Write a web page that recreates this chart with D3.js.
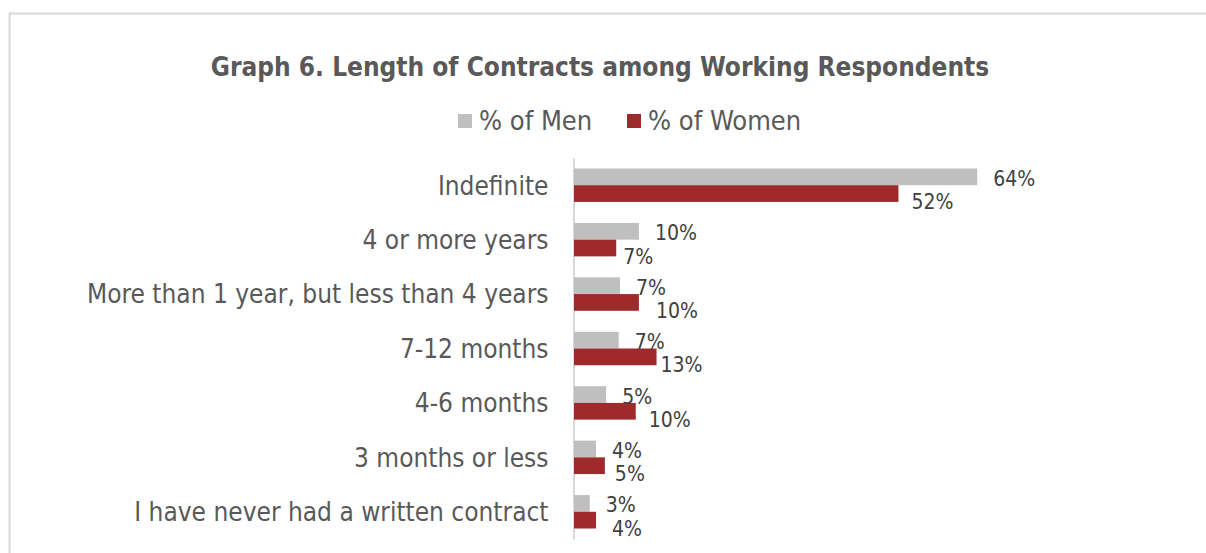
<!DOCTYPE html>
<html>
<head>
<meta charset="utf-8">
<script src="https://cdn.jsdelivr.net/npm/d3@7"></script>
<style>
  html, body { margin: 0; padding: 0; background: #ffffff; }
  svg { display: block; }
  text { font-family: "DejaVu Sans Condensed", "DejaVu Sans", sans-serif; }
</style>
</head>
<body>
<svg id="chart" width="1206" height="553"></svg>
<script>
// ---- data ----
const title = "Graph 6. Length of Contracts among Working Respondents";
const seriesNames = ["% of Men", "% of Women"];
const categories = [
  "Indefinite",
  "4 or more years",
  "More than 1 year, but less than 4 years",
  "7-12 months",
  "4-6 months",
  "3 months or less",
  "I have never had a written contract"
];
const menValues   = [64.0, 10.3, 7.3, 7.1, 5.1, 3.5, 2.5];
const womenValues = [51.5, 6.7, 10.3, 13.1, 9.8, 4.9, 3.5];

// ---- layout / style ----
const colors = ["#BFBFBF", "#9E2A2B"];
const W = 1206, H = 553;
const svg = d3.select("#chart");

// frame
svg.append("path")
  .attr("d", "M9.5,553 L9.5,13.5 L1206,13.5")
  .attr("fill", "none").attr("stroke", "#D9D9D9").attr("stroke-width", 2);

// title
svg.append("text")
  .attr("x", 600).attr("y", 76)
  .attr("text-anchor", "middle")
  .attr("font-size", 26).attr("font-weight", "bold")
  .attr("fill", "#595959")
  .text(title);

// scales
const x = d3.scaleLinear().domain([0, 70]).range([574, 574 + 441]);
const y = d3.scaleBand().domain(categories).range([158, 539])
  .paddingInner(0.386).paddingOuter(0.193);
const ySub = d3.scaleBand().domain(seriesNames).range([0, y.bandwidth()]);

// legend
const legend = svg.append("g");
const legendItems = [
  {name: seriesNames[0], color: colors[0], x: 458},
  {name: seriesNames[1], color: colors[1], x: 627}
];
legendItems.forEach(d => {
  legend.append("rect").attr("x", d.x).attr("y", 114).attr("width", 14).attr("height", 14).attr("fill", d.color);
  legend.append("text").attr("x", d.x + 21).attr("y", 130)
    .attr("font-size", 27).attr("fill", "#595959").text(d.name);
});

// axis (category) line
const yAxis = d3.axisLeft(y).tickSize(0).tickPadding(25);
const gy = svg.append("g").attr("transform", `translate(${x(0) - 0.5},0)`).call(yAxis);
gy.select(".domain").attr("stroke", "#D9D9D9").attr("stroke-width", 2);
gy.selectAll(".tick text")
  .attr("font-family", "DejaVu Sans Condensed, DejaVu Sans, sans-serif")
  .attr("font-size", 26).attr("fill", "#595959").attr("dy", "0.36em");

// bars
const rows = categories.map((c, i) => ({cat: c, men: menValues[i], women: womenValues[i], i}));
const fmt = v => Math.round(v) + "%";
const womenLabelGap = [13, 7, 17, 4, 13, 10, 16];

const g = svg.append("g");
rows.forEach(r => {
  const y0 = y(r.cat);
  // men
  g.append("rect")
    .attr("x", x(0)).attr("y", y0 + ySub(seriesNames[0]))
    .attr("width", x(r.men) - x(0)).attr("height", ySub.bandwidth())
    .attr("fill", colors[0]);
  // women
  g.append("rect")
    .attr("x", x(0)).attr("y", y0 + ySub(seriesNames[1]))
    .attr("width", x(r.women) - x(0)).attr("height", ySub.bandwidth())
    .attr("fill", colors[1]);
  // labels
  g.append("text")
    .attr("x", x(r.men) + 16)
    .attr("y", y0 + ySub(seriesNames[0]) + ySub.bandwidth() / 2 + 1.5)
    .attr("dy", "0.36em")
    .attr("font-size", 21).attr("fill", "#404040")
    .text(fmt(r.men));
  g.append("text")
    .attr("x", x(r.women) + womenLabelGap[r.i])
    .attr("y", y0 + ySub(seriesNames[1]) + ySub.bandwidth() / 2 + 8)
    .attr("dy", "0.36em")
    .attr("font-size", 21).attr("fill", "#404040")
    .text(fmt(r.women));
});
</script>
</body>
</html>
